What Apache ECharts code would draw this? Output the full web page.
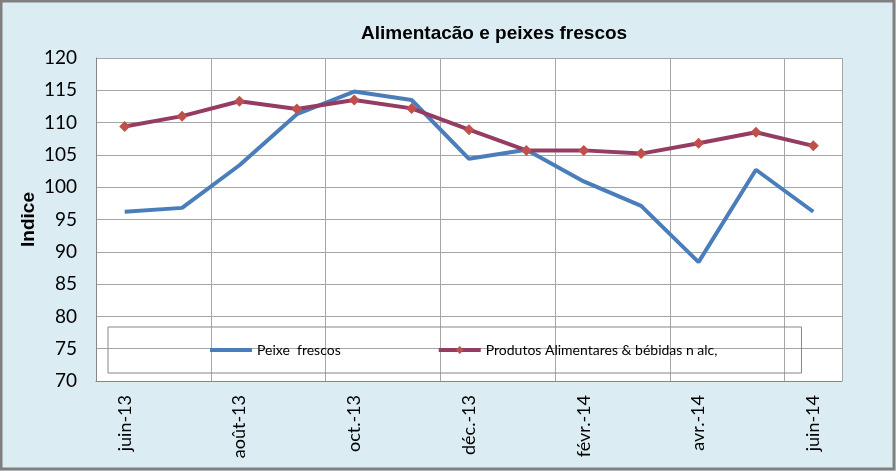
<!DOCTYPE html>
<html>
<head>
<meta charset="utf-8">
<script src="https://cdn.jsdelivr.net/npm/echarts@6/dist/echarts.min.js"></script>
<style>
  html, body { margin: 0; padding: 0; }
  #chart { width: 896px; height: 471px; }
</style>
</head>
<body>
<div id="chart"></div>
<script>
const months = [
  "juin-13", "juil.-13", "août-13", "sept.-13", "oct.-13", "nov.-13", "déc.-13",
  "janv.-14", "févr.-14", "mars-14", "avr.-14", "mai-14", "juin-14",
];
const peixeFrescos = [96.2, 96.8, 103.4, 111.3, 114.8, 113.5, 104.4, 105.8, 100.9, 97.1, 88.4, 102.7, 96.2];
const produtosAlim = [109.4, 111.0, 113.3, 112.1, 113.5, 112.2, 108.9, 105.7, 105.7, 105.2, 106.8, 108.5, 106.4];

const chart = echarts.init(document.getElementById("chart"));

const plotLeft = 96, plotTop = 58, plotRight = 54, plotBottom = 90;

const option = {
  backgroundColor: "#dbecf3",
  animation: false,
  title: {
    text: "Alimentacão e peixes frescos",
    left: 356,
    top: 19,
    textStyle: {
      fontFamily: "Liberation Sans",
      fontSize: 19,
      fontWeight: "bold",
      color: "#000",
    },
  },
  graphic: [
    {
      type: "rect",
      shape: { x: 1, y: 1, width: 893, height: 468 },
      style: { fill: null, stroke: "#7f7f7f", lineWidth: 3 },
      silent: true,
    },
  ],
  legend: {
    left: 108,
    top: 327,
    padding: [16, 84, 16, 100],
    itemGap: 96,
    itemWidth: 42,
    itemHeight: 10,
    borderColor: "#868686",
    borderWidth: 1,
    lineStyle: { width: 4 },
    textStyle: {
      fontFamily: "Lato",
      fontSize: 14,
      color: "#000",
    },
    data: [
      { name: "Peixe  frescos", itemStyle: { opacity: 0 } },
      { name: "Produtos Alimentares & bébidas n alc," },
    ],
  },
  grid: {
    show: true,
    left: plotLeft,
    right: plotRight,
    top: plotTop,
    bottom: plotBottom,
    backgroundColor: "#ffffff",
    borderWidth: 0,
  },
  xAxis: {
    type: "category",
    data: months,
    boundaryGap: true,
    axisLine: { show: true, lineStyle: { color: "#868686", width: 1 } },
    axisTick: { show: false },
    axisLabel: {
      interval: 1,
      rotate: 90,
      margin: 14,
      fontFamily: "Lato",
      fontSize: 18,
      color: "#000",
    },
    splitLine: {
      show: true,
      interval: 1,
      lineStyle: { color: "#a6a6a6", width: 1 },
    },
  },
  yAxis: {
    type: "value",
    min: 70,
    max: 120,
    interval: 5,
    name: "Indice",
    nameLocation: "middle",
    nameGap: 58,
    nameMoveOverlap: false,
    nameRotate: 90,
    nameTextStyle: {
      fontFamily: "Liberation Sans",
      fontSize: 19,
      fontWeight: "bold",
      color: "#000",
    },
    axisLine: { show: true, lineStyle: { color: "#868686", width: 1 } },
    axisTick: { show: false },
    axisLabel: {
      margin: 19,
      fontFamily: "Lato",
      fontSize: 19,
      color: "#000",
    },
    splitLine: {
      show: true,
      lineStyle: { color: "#a6a6a6", width: 1 },
    },
  },
  series: [
    {
      name: "Peixe  frescos",
      type: "line",
      data: peixeFrescos,
      showSymbol: false,
      symbol: "none",
      lineStyle: { color: "#4a7ebb", width: 4 },
      itemStyle: { color: "#4a7ebb" },
    },
    {
      name: "Produtos Alimentares & bébidas n alc,",
      type: "line",
      data: produtosAlim,
      symbol: "diamond",
      symbolSize: 11,
      lineStyle: { color: "#953c63", width: 4 },
      itemStyle: { color: "#c0504d" },
    },
  ],
};

chart.setOption(option);
</script>
</body>
</html>
